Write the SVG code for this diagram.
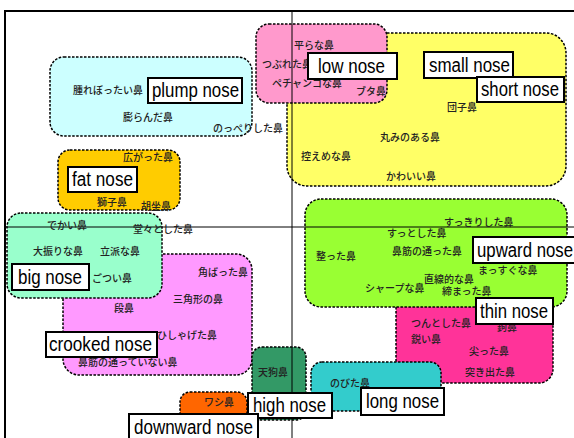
<svg xmlns="http://www.w3.org/2000/svg" width="574" height="438" viewBox="0 0 574 438">
<style>
.r{stroke:#000;stroke-width:1.5;stroke-dasharray:2.5 1.5}
.j{font-family:"Noto Sans CJK JP","Liberation Sans",sans-serif;font-size:10px;fill:#222;font-weight:500}
.lb rect{fill:#fff;stroke:#000;stroke-width:2}
.lb text{font-family:"Liberation Sans",Arial,sans-serif;font-size:20px;fill:#000}
.ax{stroke:#000;stroke-width:1;fill:none}
</style>
<rect x="0" y="0" width="574" height="438" fill="#fff"/>
<rect x="5" y="11" width="620" height="460" fill="none" stroke="#000" stroke-width="2"/>

<g id="regions">
<g id="short-small"><rect class="r" x="287" y="33" width="279" height="153" rx="20" fill="#FFFF66"/></g>
<g id="low"><rect class="r" x="256" y="24" width="131" height="79" rx="13" fill="#FF99CC"/></g>
<g id="plump"><rect class="r" x="50" y="57" width="202" height="79" rx="14" fill="#CCFFFF"/></g>
<g id="fat"><rect class="r" x="58" y="150" width="122" height="60" rx="12" fill="#FFCC00"/></g>
<g id="crooked"><rect class="r" x="63" y="254" width="189" height="121" rx="16" fill="#FF99FF"/></g>
<g id="big"><rect class="r" x="7" y="213" width="155" height="85" rx="14" fill="#99FFCC"/></g>
<g id="thin"><rect class="r" x="396" y="290" width="157" height="93" rx="14" fill="#FF3399"/></g>
<g id="upward"><rect class="r" x="305" y="199" width="262" height="108" rx="16" fill="#99FF33"/></g>
<g id="high"><rect class="r" x="252" y="347" width="54" height="73" rx="10" fill="#339966"/></g>
<g id="long"><rect class="r" x="311" y="362" width="130" height="49" rx="11" fill="#33CCCC"/></g>
<g id="downward"><rect class="r" x="180" y="392" width="67" height="40" rx="10" fill="#FF6600"/></g>
</g>

<g id="axes">
<line class="ax" x1="292" y1="11" x2="292" y2="438"/>
<line class="ax" x1="5" y1="227" x2="574" y2="227"/>
</g>

<g id="words">
<text class="j" x="73" y="94">腫れぼったい鼻</text>
<text class="j" x="123" y="121">膨らんだ鼻</text>
<text class="j" x="213" y="132">のっぺりした鼻</text>

<text class="j" x="294" y="49">平らな鼻</text>
<text class="j" x="262" y="68">つぶれた鼻</text>
<text class="j" x="272" y="87">ペチャンコな鼻</text>
<text class="j" x="356" y="95">ブタ鼻</text>

<text class="j" x="447" y="111">団子鼻</text>
<text class="j" x="380" y="141">丸みのある鼻</text>
<text class="j" x="301" y="160">控えめな鼻</text>
<text class="j" x="386" y="180">かわいい鼻</text>

<text class="j" x="123" y="161">広がった鼻</text>
<text class="j" x="97" y="206">獅子鼻</text>
<text class="j" x="141" y="210">胡坐鼻</text>

<text class="j" x="47" y="229">でかい鼻</text>
<text class="j" x="133" y="233">堂々とした鼻</text>
<text class="j" x="33" y="255">大振りな鼻</text>
<text class="j" x="100" y="255">立派な鼻</text>
<text class="j" x="92" y="282">ごつい鼻</text>

<text class="j" x="198" y="276">角ばった鼻</text>
<text class="j" x="173" y="303">三角形の鼻</text>
<text class="j" x="114" y="312">段鼻</text>
<text class="j" x="157" y="339">ひしゃげた鼻</text>
<text class="j" x="78" y="366">鼻筋の通っていない鼻</text>

<text class="j" x="444" y="226">すっきりした鼻</text>
<text class="j" x="387" y="237">すっとした鼻</text>
<text class="j" x="316" y="260">整った鼻</text>
<text class="j" x="392" y="255">鼻筋の通った鼻</text>
<text class="j" x="478" y="274">まっすぐな鼻</text>
<text class="j" x="424" y="283">直線的な鼻</text>
<text class="j" x="365" y="292">シャープな鼻</text>
<text class="j" x="442" y="295">締まった鼻</text>

<text class="j" x="411" y="327">つんとした鼻</text>
<text class="j" x="411" y="343">鋭い鼻</text>
<text class="j" x="497" y="331">鉤鼻</text>
<text class="j" x="469" y="355">尖った鼻</text>
<text class="j" x="465" y="376">突き出た鼻</text>

<text class="j" x="258" y="376">天狗鼻</text>
<text class="j" x="330" y="387">のびた鼻</text>
<text class="j" x="204" y="406">ワシ鼻</text>
</g>

<g id="labels">
<g id="lbl-plump" class="lb"><rect x="148" y="78" width="94" height="25"/><text x="152" y="97" textLength="87" lengthAdjust="spacingAndGlyphs">plump nose</text></g>
<g id="lbl-low" class="lb"><rect x="308" y="53" width="89" height="26"/><text x="318" y="73" textLength="67" lengthAdjust="spacingAndGlyphs">low nose</text></g>
<g id="lbl-small" class="lb"><rect x="424" y="52" width="89" height="26"/><text x="429" y="72" textLength="81" lengthAdjust="spacingAndGlyphs">small nose</text></g>
<g id="lbl-short" class="lb"><rect x="477" y="77" width="87" height="25"/><text x="481" y="96" textLength="78" lengthAdjust="spacingAndGlyphs">short nose</text></g>
<g id="lbl-fat" class="lb"><rect x="68" y="167" width="69" height="25"/><text x="72" y="186" textLength="61" lengthAdjust="spacingAndGlyphs">fat nose</text></g>
<g id="lbl-big" class="lb"><rect x="12" y="264" width="77" height="26"/><text x="18" y="284" textLength="64" lengthAdjust="spacingAndGlyphs">big nose</text></g>
<g id="lbl-crooked" class="lb"><rect x="46" y="332" width="111" height="25"/><text x="49" y="351" textLength="103" lengthAdjust="spacingAndGlyphs">crooked nose</text></g>
<g id="lbl-upward" class="lb"><rect x="473" y="237" width="104" height="26"/><text x="477" y="257" textLength="96" lengthAdjust="spacingAndGlyphs">upward nose</text></g>
<g id="lbl-thin" class="lb"><rect x="476" y="298" width="77" height="26"/><text x="480" y="318" textLength="68" lengthAdjust="spacingAndGlyphs">thin nose</text></g>
<g id="lbl-high" class="lb"><rect x="248" y="393" width="84" height="25"/><text x="253" y="412" textLength="73" lengthAdjust="spacingAndGlyphs">high nose</text></g>
<g id="lbl-long" class="lb"><rect x="361" y="388" width="83" height="27"/><text x="366" y="408" textLength="73" lengthAdjust="spacingAndGlyphs">long nose</text></g>
<g id="lbl-downward" class="lb"><rect x="129" y="414" width="129" height="28"/><text x="134" y="434" textLength="119" lengthAdjust="spacingAndGlyphs">downward nose</text></g>
</g>
</svg>
